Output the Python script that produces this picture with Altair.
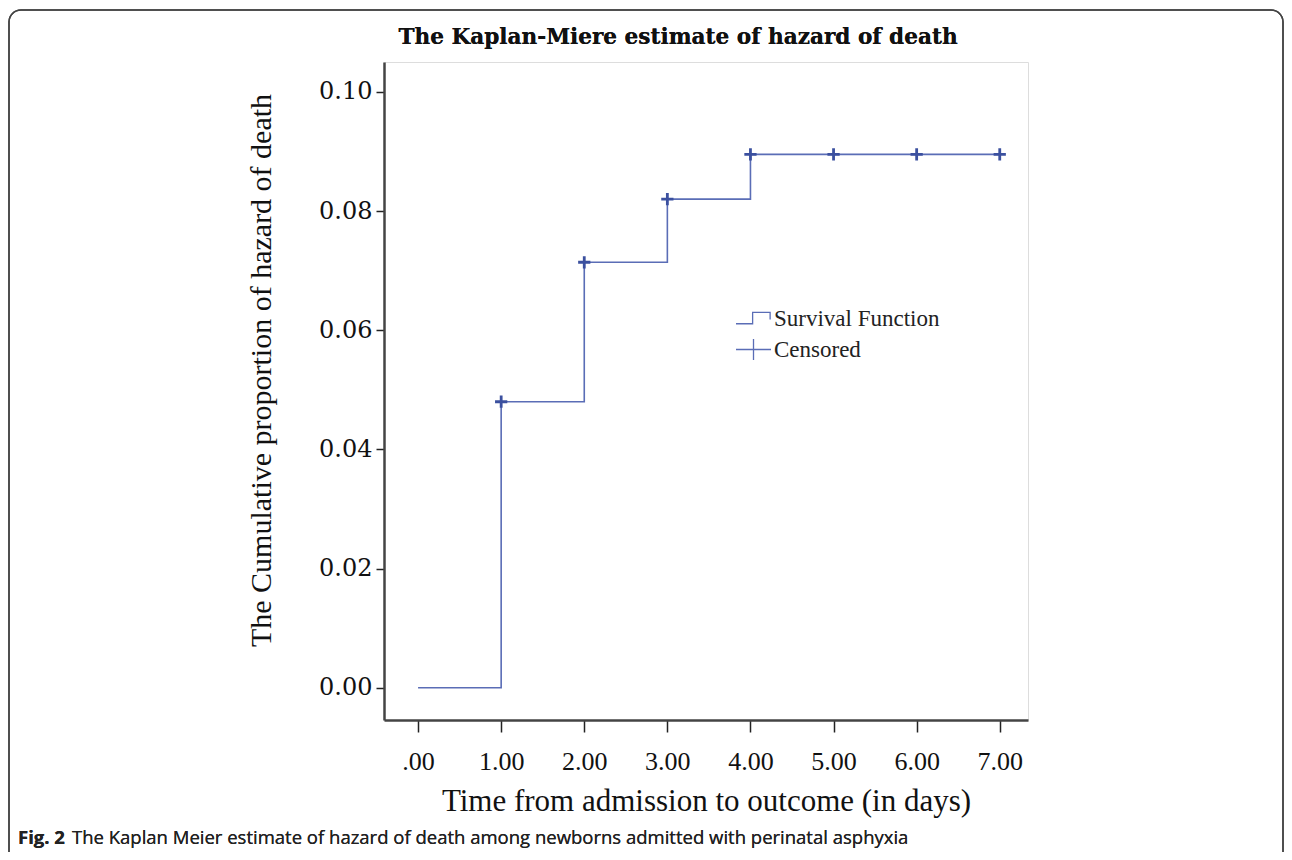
import altair as alt
import pandas as pd

# ---- data ----
days = [0, 1, 2, 3, 4, 5, 6, 7]
hazard = [0.0, 0.048, 0.0714, 0.082, 0.0895, 0.0895, 0.0895, 0.0895]
censor_days = [1, 2, 3, 4, 5, 6, 7]
censor_hazard = [0.048, 0.0714, 0.082, 0.0895, 0.0895, 0.0895, 0.0895]
x_ticks = [0, 1, 2, 3, 4, 5, 6, 7]
y_ticks = [0.0, 0.02, 0.04, 0.06, 0.08, 0.10]
legend_entries = ["Survival Function", "Censored"]

title_text = "The Kaplan-Miere estimate of hazard of death"
x_title = "Time from admission to outcome (in days)"
y_title = "The Cumulative proportion of hazard of death"
caption_bold = "Fig. 2"
caption_rest = "The Kaplan Meier estimate of hazard of death among newborns admitted with perinatal asphyxia"

LINE = "#5a6db6"
MARK = "#3b509f"
STEP_PATH = "M-1,0.3H-0.05V-0.35H0.95V0.05"
PLUS_LEGEND = "M-1,0H1M0,-0.6V0.6"
PLUS_MARK = "M-1,0H1M0,-1V1"

curve = pd.DataFrame({"day": days, "hazard": hazard})
cens = pd.DataFrame({"day": censor_days, "hazard": censor_hazard})
leg = pd.DataFrame({"entry": legend_entries, "day": [days[0]] * 2, "hazard": [hazard[0]] * 2})

x_scale = alt.Scale(domain=[-0.41, 7.34], nice=False, zero=False)
y_scale = alt.Scale(domain=[-0.0054, 0.105], nice=False, zero=False)

x_axis = alt.Axis(
    values=x_ticks,
    labelExpr="datum.value == 0 ? '.00' : format(datum.value, '.2f')",
    title=x_title, titleFont="Liberation Serif", titleFontSize=31, titleFontWeight="normal",
    titleColor="#111", titlePadding=12,
    labelFont="Liberation Serif", labelFontSize=26, labelColor="#111", labelPadding=16,
    tickSize=12, tickWidth=1.5, tickColor="#222",
    domainColor="#444", domainWidth=2.5, grid=False,
)
y_axis = alt.Axis(
    values=y_ticks, format=".2f",
    title=y_title, titleFont="Liberation Serif", titleFontSize=30, titleFontWeight="normal",
    titleColor="#111", titlePadding=42, titleY=308,
    labelFont="DejaVu Serif", labelFontSize=24, labelColor="#111", labelPadding=4,
    tickSize=8, tickWidth=1.5, tickColor="#222",
    domainColor="#444", domainWidth=2.5, grid=False,
)

line = alt.Chart(curve).mark_line(interpolate="step-after", color=LINE, strokeWidth=1.6).encode(
    x=alt.X("day:Q", scale=x_scale, axis=x_axis),
    y=alt.Y("hazard:Q", scale=y_scale, axis=y_axis),
)

pts = alt.Chart(cens).mark_point(shape=PLUS_MARK, size=150, color=MARK, filled=False, strokeWidth=2.8, opacity=1).encode(
    x=alt.X("day:Q", scale=x_scale),
    y=alt.Y("hazard:Q", scale=y_scale),
)

legend_layer = alt.Chart(leg).mark_point(filled=False, color=LINE, opacity=0).encode(
    x=alt.X("day:Q", scale=x_scale),
    y=alt.Y("hazard:Q", scale=y_scale),
    shape=alt.Shape(
        "entry:N",
        scale=alt.Scale(domain=legend_entries, range=[STEP_PATH, PLUS_LEGEND]),
        legend=alt.Legend(
            title=None, orient="none", legendX=351, legendY=238, padding=0,
            labelFont="Liberation Serif", labelFontSize=23, labelColor="#222", labelOffset=2,
            labelLimit=400,
            symbolSize=1225, symbolStrokeWidth=1.3, symbolStrokeColor=LINE,
            symbolFillColor="transparent", symbolOpacity=1, rowPadding=0,
        ),
    ),
)

title_mark = alt.Chart(leg).mark_text(
    text=title_text, font="DejaVu Serif", fontSize=21.6, fontWeight="bold", align="center",
    baseline="middle", color="#111",
).encode(x=alt.value(294), y=alt.value(-24))

cap1 = alt.Chart(leg).mark_text(
    text=caption_bold, font="Open Sans", fontSize=18.5, fontWeight="bold", align="left",
    baseline="middle", color="#222",
).encode(x=alt.value(-366), y=alt.value(776))
cap2 = alt.Chart(leg).mark_text(
    text=caption_rest, font="Open Sans", fontSize=18.5, align="left", baseline="middle", color="#222",
).encode(x=alt.value(-312), y=alt.value(776))

border = alt.Chart(leg).mark_rect(filled=False, color="#444", strokeWidth=1.5, cornerRadius=12).encode(
    x=alt.value(-375), x2=alt.value(899), y=alt.value(-52), y2=alt.value(900)
)

chart = alt.layer(border, line, pts, legend_layer, title_mark, cap1, cap2).properties(
    width=644, height=658,
    autosize=alt.AutoSizeParams(type="none"),
    padding={"left": 376, "top": 54, "right": 256, "bottom": 132},
).configure_view(strokeWidth=0).configure(background="white")

chart.save("out.html", embed_options={"renderer": "svg", "actions": False})
